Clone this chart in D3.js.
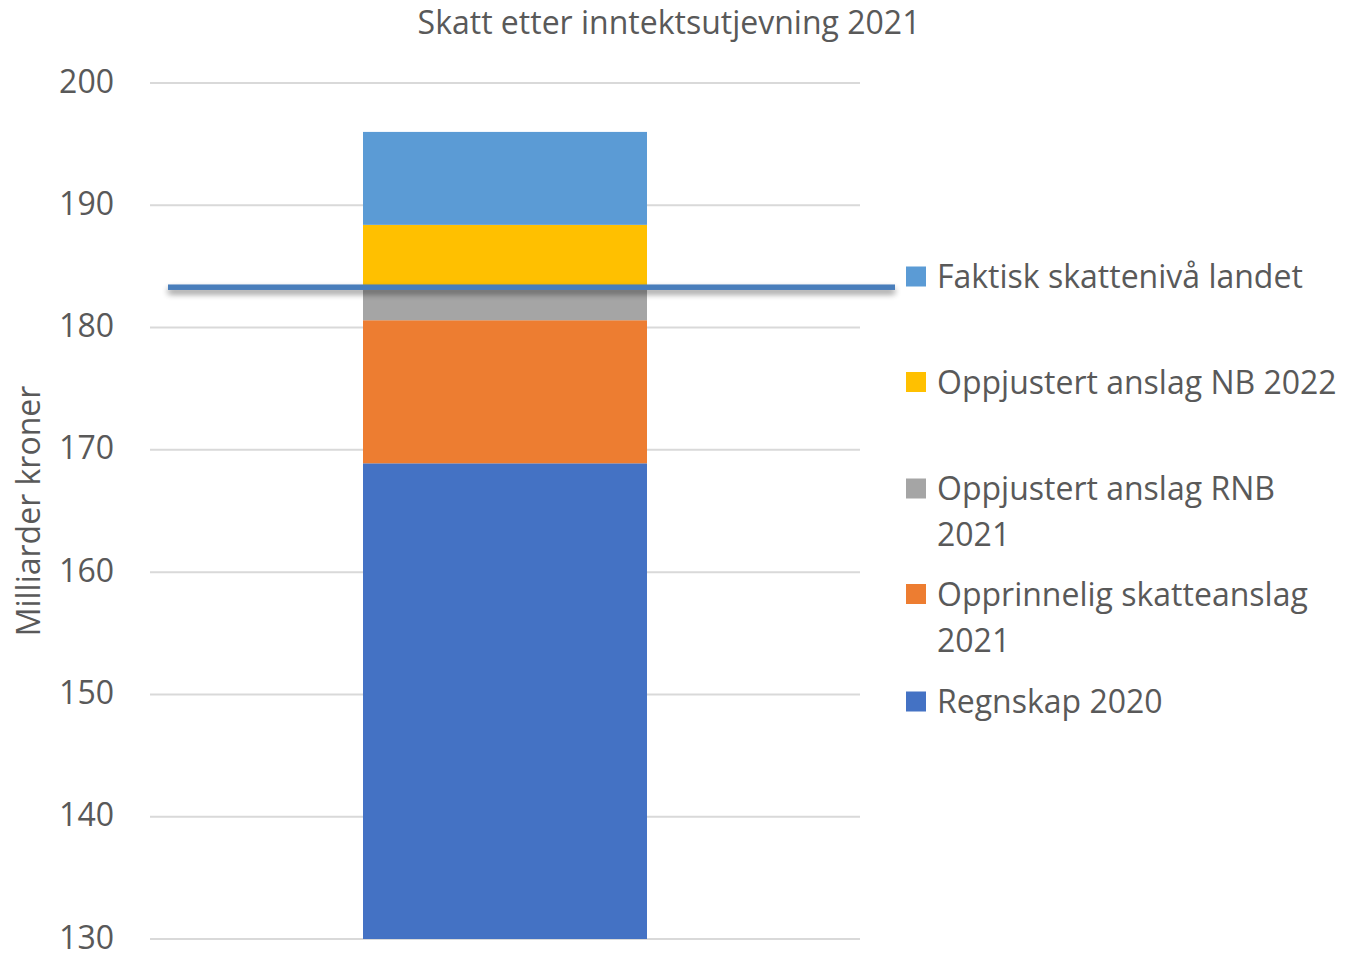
<!DOCTYPE html>
<html><head><meta charset="utf-8">
<script src="https://cdn.jsdelivr.net/npm/d3@7"></script>
<style>body{margin:0;background:#fff}svg{display:block}text{font-family:"Open Sans",sans-serif;fill:#595959}</style>
</head><body>
<script>
const title = "Skatt etter inntektsutjevning 2021";
const yTitle = "Milliarder kroner";
const category = ["2021"];
const seriesNames = ["Regnskap 2020","Opprinnelig skatteanslag 2021","Oppjustert anslag RNB 2021","Oppjustert anslag NB 2022","Faktisk skattenivå landet"];
const seriesValues = [168.9, 11.7, 2.7, 5.1, 7.6];
const seriesColors = ["#4472C4","#ED7D31","#A5A5A5","#FFC000","#5B9BD5"];
const legendLines = [["Regnskap 2020"],["Opprinnelig skatteanslag","2021"],["Oppjustert anslag RNB","2021"],["Oppjustert anslag NB 2022"],["Faktisk skattenivå landet"]];
const lineValue = 183.3;
const yTicks = [130,140,150,160,170,180,190,200];

const W=1347,H=954;
const svg=d3.select("body").append("svg").attr("width",W).attr("height",H);
const m={left:150,right:860,top:83,bottom:939};
const y=d3.scaleLinear().domain([130,200]).range([m.bottom,m.top]);
const x=d3.scaleBand().domain(category).range([m.left,m.right]).paddingInner(0.6).paddingOuter(0.3);

svg.append("g").selectAll("line").data(yTicks).join("line")
  .attr("x1",m.left).attr("x2",m.right).attr("y1",d=>y(d)).attr("y2",d=>y(d))
  .attr("stroke","#D9D9D9").attr("stroke-width",2);
svg.append("g").selectAll("text").data(yTicks).join("text")
  .attr("x",114).attr("y",d=>y(d)).attr("dy","0.30em").attr("text-anchor","end")
  .attr("font-size",32).text(d=>d);

const row={}; seriesNames.forEach((n,i)=>row[n]=seriesValues[i]);
const stack=d3.stack().keys(seriesNames)([row]);
svg.append("g").selectAll("rect").data(stack).join("rect")
  .attr("x",x(category[0])).attr("width",x.bandwidth())
  .attr("y",d=>y(Math.min(200,d[0][1]))).attr("height",d=>y(Math.max(130,d[0][0]))-y(Math.min(200,d[0][1])))
  .attr("fill",(d,i)=>seriesColors[i]);

const defs=svg.append("defs");
const f=defs.append("filter").attr("id","sh").attr("filterUnits","userSpaceOnUse")
  .attr("x",0).attr("y",0).attr("width",W).attr("height",H);
f.append("feGaussianBlur").attr("in","SourceAlpha").attr("stdDeviation",3).attr("result","b");
f.append("feOffset").attr("in","b").attr("dy",4).attr("result","o");
f.append("feComponentTransfer").attr("in","o").attr("result","o2").append("feFuncA").attr("type","linear").attr("slope",0.45);
const fm=f.append("feMerge"); fm.append("feMergeNode").attr("in","o2"); fm.append("feMergeNode").attr("in","SourceGraphic");
const lw=5.5;
svg.append("rect").attr("x",m.left+18).attr("width",(m.right+35)-(m.left+18))
  .attr("y",y(lineValue)-lw/2).attr("height",lw)
  .attr("fill","#4A7EBB").attr("filter","url(#sh)");

svg.append("text").attr("x",669).attr("y",22).attr("dy","0.36em").attr("text-anchor","middle")
  .attr("font-size",32).text(title);
svg.append("text").attr("transform","translate(28,511) rotate(-90)").attr("dy","0.36em")
  .attr("text-anchor","middle").attr("font-size",32).text(yTitle);

const legY=[701.5,594,488.5,382,276.5];
const lg=svg.append("g").selectAll("g").data(seriesNames).join("g")
  .attr("transform",(d,i)=>`translate(906,${legY[i]})`);
lg.append("rect").attr("x",0).attr("y",-10).attr("width",20).attr("height",20).attr("fill",(d,i)=>seriesColors[i]);
lg.each(function(d,i){
  const g=d3.select(this);
  legendLines[i].forEach((t,j)=>g.append("text").attr("x",31).attr("y",j*46).attr("dy","0.36em").attr("font-size",32).text(t));
});
</script>
</body></html>
